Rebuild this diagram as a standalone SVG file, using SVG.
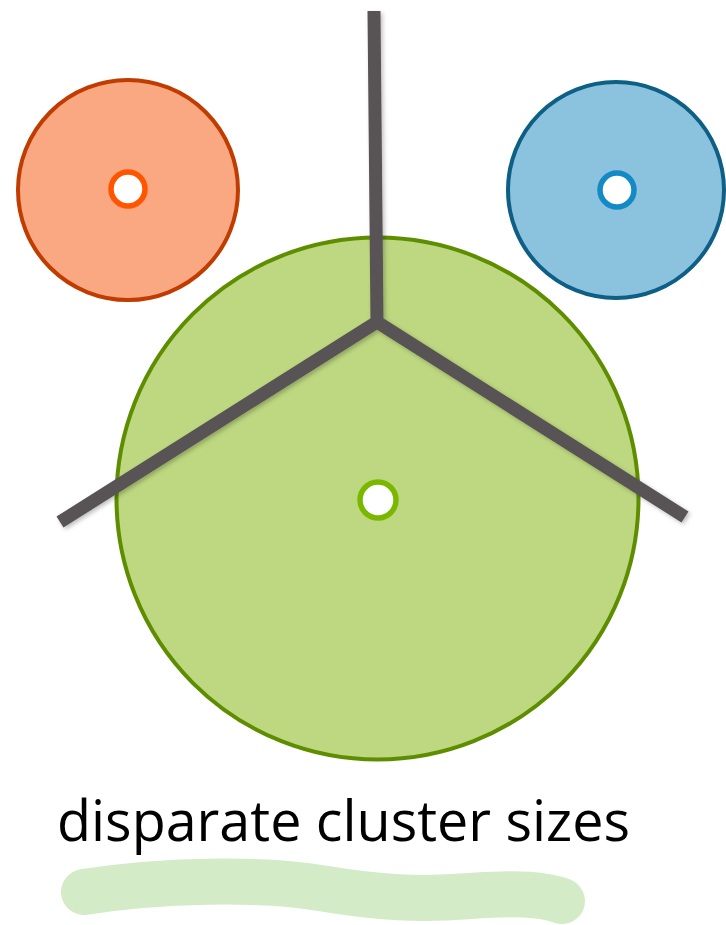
<svg xmlns="http://www.w3.org/2000/svg" width="726" height="925" viewBox="0 0 726 925">
<defs>
<style>
.big{stroke-width:4}
.dot{fill:#ffffff;stroke-width:5.5}
.edge{stroke:#595354;stroke-width:13;fill:none;stroke-linecap:butt;stroke-linejoin:miter}
.label{font-family:"Open Sans","Liberation Sans",sans-serif;font-size:56px;fill:#000000}
</style>
<filter id="sh" x="-10%" y="-10%" width="120%" height="120%">
<feDropShadow dx="2" dy="2" stdDeviation="2" flood-color="#000" flood-opacity="0.25"/>
</filter>
</defs>
<rect width="726" height="925" fill="#ffffff"/>
<g id="cluster-orange">
<circle class="big" cx="128" cy="190" r="110" fill="#f9a882" stroke="#c03c00"/>
<circle class="dot" cx="128" cy="189" r="17" stroke="#ff5500"/>
</g>
<g id="cluster-blue">
<circle class="big" cx="616" cy="190" r="108" fill="#8bc3de" stroke="#0d5f86"/>
<circle class="dot" cx="617" cy="190" r="17" stroke="#138ac6"/>
</g>
<g id="cluster-green">
<circle class="big" cx="377.5" cy="498.5" r="261" fill="#bdd880" stroke="#5e8e00"/>
<circle class="dot" cx="378" cy="500" r="18" stroke="#7ab800"/>
</g>
<g id="connectors" filter="url(#sh)">
<path class="edge" d="M374 11 L377 322 M60 522 L377 322 L685 517"/>
</g>
<g id="label">
<text class="label" x="57" y="841" textLength="573" lengthAdjust="spacingAndGlyphs">disparate cluster sizes</text>
<path d="M84 892 C160 880 260 878 320 888 C380 898 420 900 470 896 C520 892 545 895 562 901" fill="none" stroke="#d4ebc8" stroke-width="46" stroke-linecap="round"/>
</g>
</svg>
